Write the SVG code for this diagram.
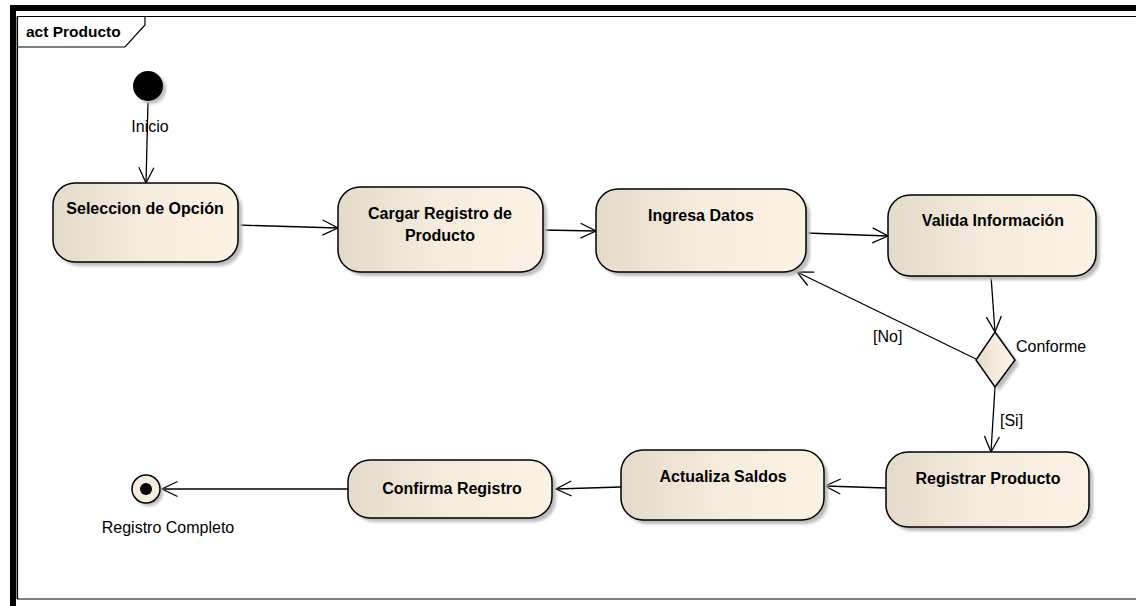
<svg xmlns="http://www.w3.org/2000/svg" width="1136" height="606" viewBox="0 0 1136 606">
  <defs>
    <linearGradient id="fill" x1="0" y1="0" x2="1" y2="0">
      <stop offset="0" stop-color="#e4dac9"/>
      <stop offset="0.5" stop-color="#f6ecde"/>
      <stop offset="1" stop-color="#fbf2e4"/>
    </linearGradient>
    <filter id="soft" x="-20%" y="-20%" width="140%" height="140%">
      <feGaussianBlur stdDeviation="1.5"/>
    </filter>
    <marker id="open" viewBox="0 0 18 18" refX="16.5" refY="9" markerWidth="18" markerHeight="18" markerUnits="userSpaceOnUse" orient="auto">
      <path d="M1,1.5 L16.5,9 L1,16.5" fill="none" stroke="#000" stroke-width="1.3"/>
    </marker>
  </defs>
  <style>
    .frame { fill: none; stroke: #000; stroke-width: 1.2; }
    .shadow { fill: #bcbcbc; filter: url(#soft); }
    .box { fill: url(#fill); stroke: #000; stroke-width: 1.5; }
    .title { font-family: "Liberation Sans", Arial, sans-serif; font-weight: bold; font-size: 15.5px; fill: #000; }
    .label { font-family: "Liberation Sans", Arial, sans-serif; font-weight: bold; font-size: 16px; fill: #000; text-anchor: middle; }
    .note { font-family: "Liberation Sans", Arial, sans-serif; font-size: 16px; fill: #000; }
    .edge { fill: none; stroke: #000; stroke-width: 1.3; marker-end: url(#open); }
  </style>

  <rect width="1136" height="606" fill="#fff"/>

  <!-- outer frame -->
  <g id="frame">
    <rect x="10" y="5" width="1126" height="6" fill="#000"/>
    <rect x="10" y="5" width="6" height="601" fill="#000"/>
    <line x1="16.5" y1="16" x2="16.5" y2="599" stroke="#9a9a9a" stroke-width="1"/>
    <path class="frame" d="M1140,16.5 H17.5 V599 H1140"/>
    <path class="frame" d="M17.5,47 H125 L145,25 V16.5"/>
    <text class="title" x="26" y="37">act Producto</text>
  </g>

  <!-- connectors -->
  <g id="connectors">
    <path class="edge" d="M148,102 L146,183"/>
    <path class="edge" d="M238,225 L338,228"/>
    <path class="edge" d="M543,230 L596,231"/>
    <path class="edge" d="M806,233 L888,236"/>
    <path class="edge" d="M991,276 L995,332"/>
    <path class="edge" d="M976,359 L797,272"/>
    <path class="edge" d="M995,387 L991,452"/>
    <path class="edge" d="M886,488 L825,486"/>
    <path class="edge" d="M621,487 L556,489"/>
    <path class="edge" d="M348,489 L162,489"/>
    <text class="note" x="873" y="342">[No]</text>
    <text class="note" x="1000" y="426">[Si]</text>
  </g>

  <!-- start -->
  <g id="inicio">
    <circle cx="151" cy="89" r="15" class="shadow"/>
    <circle cx="148" cy="86" r="15" fill="#000"/>
    <text class="note" x="150" y="132" text-anchor="middle">Inicio</text>
  </g>

  <g id="seleccion">
    <rect x="57" y="187" width="185" height="79" rx="22" class="shadow"/>
    <rect x="53" y="183" width="185" height="79" rx="22" class="box"/>
    <text class="label" x="145" y="214">Seleccion de Opción</text>
  </g>

  <g id="cargar">
    <rect x="342" y="191" width="205" height="85" rx="22" class="shadow"/>
    <rect x="338" y="187" width="205" height="85" rx="22" class="box"/>
    <text class="label" x="440" y="219">Cargar Registro de</text>
    <text class="label" x="440" y="241">Producto</text>
  </g>

  <g id="ingresa">
    <rect x="600" y="193" width="210" height="83" rx="22" class="shadow"/>
    <rect x="596" y="189" width="210" height="83" rx="22" class="box"/>
    <text class="label" x="701" y="221">Ingresa Datos</text>
  </g>

  <g id="valida">
    <rect x="892" y="199" width="208" height="81" rx="22" class="shadow"/>
    <rect x="888" y="195" width="208" height="81" rx="22" class="box"/>
    <text class="label" x="993" y="226">Valida Información</text>
  </g>

  <g id="conforme">
    <path d="M999,336 L1019,364 L999,391 L980,364 Z" class="shadow"/>
    <path d="M995,332 L1015,360 L995,387 L976,360 Z" class="box"/>
    <text class="note" x="1016" y="352">Conforme</text>
  </g>

  <g id="registrar">
    <rect x="890" y="456" width="203" height="75" rx="22" class="shadow"/>
    <rect x="886" y="452" width="203" height="75" rx="22" class="box"/>
    <text class="label" x="988" y="484">Registrar Producto</text>
  </g>

  <g id="actualiza">
    <rect x="625" y="454" width="203" height="70" rx="22" class="shadow"/>
    <rect x="621" y="450" width="203" height="70" rx="22" class="box"/>
    <text class="label" x="723" y="482">Actualiza Saldos</text>
  </g>

  <g id="confirma">
    <rect x="352" y="464" width="204" height="58" rx="22" class="shadow"/>
    <rect x="348" y="460" width="204" height="58" rx="22" class="box"/>
    <text class="label" x="452" y="494">Confirma Registro</text>
  </g>

  <!-- end -->
  <g id="fin">
    <circle cx="149" cy="492" r="14" class="shadow"/>
    <circle cx="146" cy="489" r="14" fill="#f6eddf" stroke="#000" stroke-width="1.5"/>
    <circle cx="146" cy="489" r="6" fill="#000"/>
    <text class="note" x="168" y="533" text-anchor="middle">Registro Completo</text>
  </g>
</svg>
